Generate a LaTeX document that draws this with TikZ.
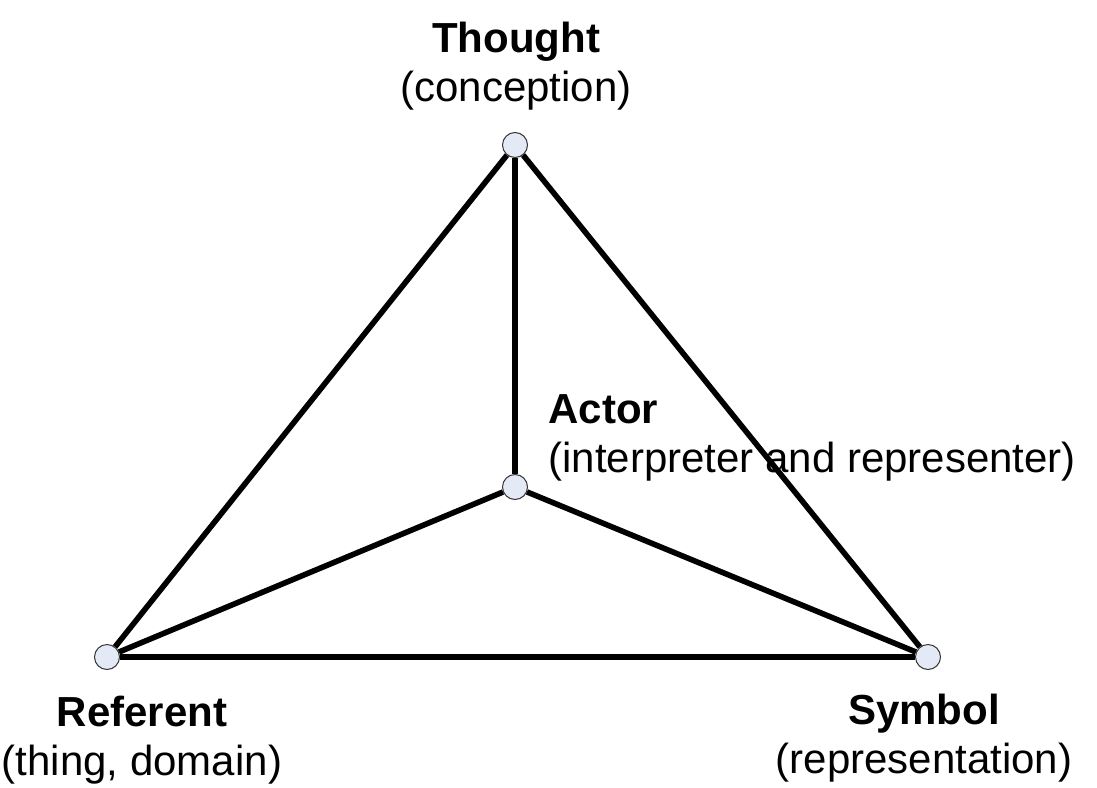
\documentclass[tikz,border=0pt]{standalone}
\usepackage{fontspec}
\setmainfont{Liberation Sans}
\usepackage{tikz}

\definecolor{vertexfill}{RGB}{228,234,245}

\begin{document}
\begin{tikzpicture}
[x=0.5pt,y=-0.5pt]
\tikzstyle{vertex}=[circle,draw=black!80,line width=0.5pt,fill=vertexfill,minimum size=12.5pt,inner sep=0pt]
\tikzstyle{side}=[draw,line width=2.8pt]
\tikzstyle{caption}=[inner sep=0pt,font=\fontsize{21}{24.5}\selectfont]
\useasboundingbox (0,0) rectangle (1097,787);
% corners and middle
\node[vertex] (thought) at (515,145) {};
\node[vertex] (actor) at (515,487) {};
\node[vertex] (referent) at (107,657) {};
\node[vertex] (symbol) at (928,657) {};
\draw[side] (thought) -- (referent);
\draw[side] (thought) -- (symbol);
\draw[side] (thought) -- (actor);
\draw[side] (actor) -- (referent);
\draw[side] (actor) -- (symbol);
\draw[side] (referent) -- (symbol);
% labels
\node[caption,align=center,anchor=base] (thoughtlabel) at (516,101) {\textbf{Thought}\\(conception)};
\node[caption,align=left,anchor=base west] (actorlabel) at (548,472) {\textbf{Actor}\\(interpreter and representer)};
\node[caption,align=center,anchor=base] (referentlabel) at (142,775) {\textbf{Referent}\\(thing, domain)};
\node[caption,align=center,anchor=base] (symbollabel) at (924,773) {\textbf{Symbol}\\(representation)};
\end{tikzpicture}
\end{document}
